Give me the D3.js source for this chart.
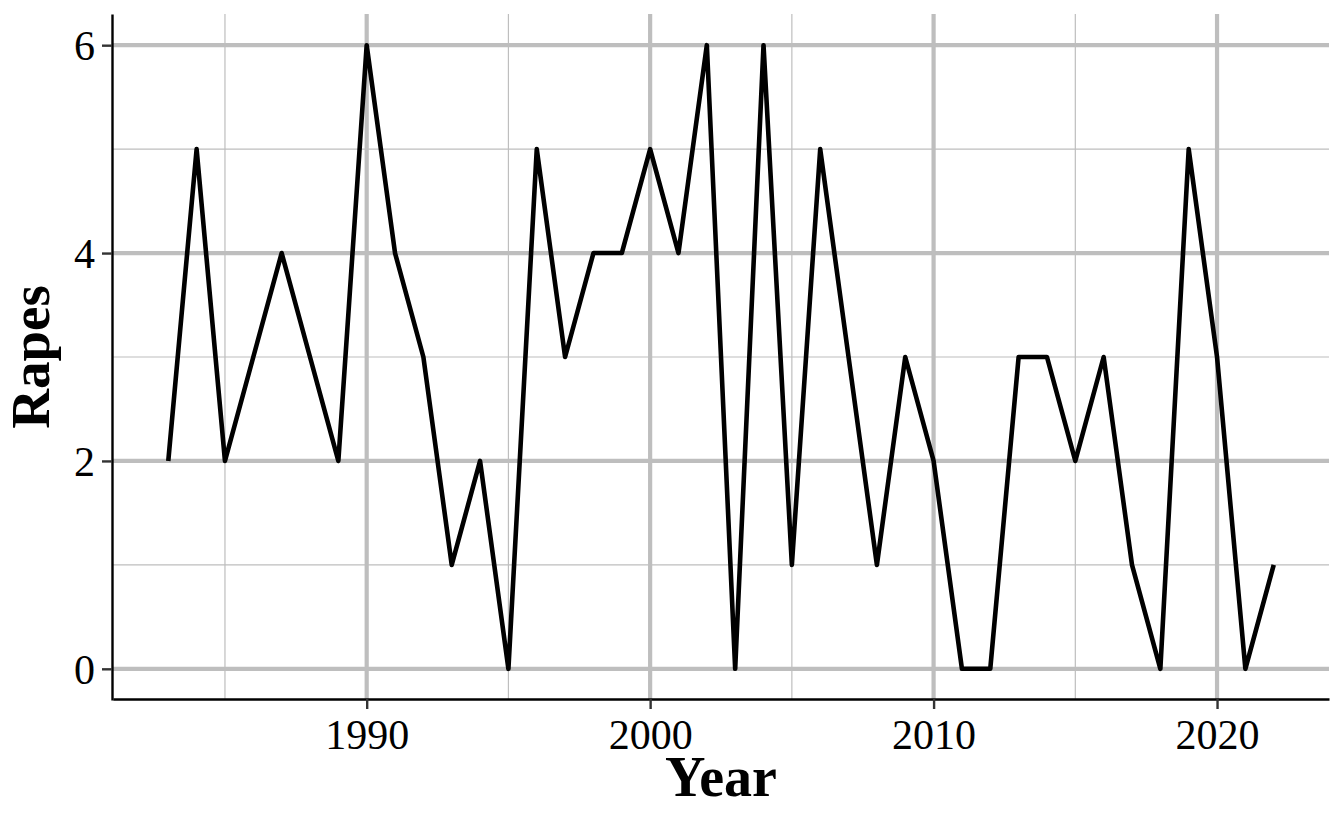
<!DOCTYPE html>
<html>
<head>
<meta charset="utf-8">
<script src="https://cdn.jsdelivr.net/npm/d3@7"></script>
<style>
  html, body { margin: 0; padding: 0; background: #fff; }
  svg { display: block; }
</style>
</head>
<body>
<svg id="chart" width="1344" height="830"></svg>
<script>
const years = [1983,1984,1985,1986,1987,1988,1989,1990,1991,1992,1993,1994,1995,1996,1997,1998,1999,2000,2001,2002,2003,2004,2005,2006,2007,2008,2009,2010,2011,2012,2013,2014,2015,2016,2017,2018,2019,2020,2021,2022];
const rapes = [2,5,2,3,4,3,2,6,4,3,1,2,0,5,3,4,4,5,4,6,0,6,1,5,3,1,3,2,0,0,3,3,2,3,1,0,5,3,0,1];
const xTicks = [1990, 2000, 2010, 2020];
const xMinor = [1985, 1995, 2005, 2015];
const yTicks = [0, 2, 4, 6];
const yMinor = [1, 3, 5];
const xTitle = "Year";
const yTitle = "Rapes";

const m = { left: 113, right: 1329, top: 14, bottom: 700 };
const svg = d3.select("#chart");
const font = "'Liberation Serif', 'Times New Roman', serif";

const xExt = d3.extent(years), xPad = (xExt[1] - xExt[0]) * 0.05;
const yExt = [0, d3.max(rapes)], yPad = (yExt[1] - yExt[0]) * 0.05;
const x = d3.scaleLinear().domain([xExt[0] - xPad, xExt[1] + xPad]).range([m.left, m.right]);
const y = d3.scaleLinear().domain([yExt[0] - yPad, yExt[1] + yPad]).range([m.bottom, m.top]);

const grid = svg.append("g");
const gc = "#bebebe";
grid.selectAll(".ymin").data(yMinor).join("line")
  .attr("x1", m.left).attr("x2", m.right).attr("y1", d => y(d)).attr("y2", d => y(d))
  .attr("stroke", gc).attr("stroke-width", 1.2);
grid.selectAll(".xmin").data(xMinor).join("line")
  .attr("y1", m.top).attr("y2", m.bottom).attr("x1", d => x(d)).attr("x2", d => x(d))
  .attr("stroke", gc).attr("stroke-width", 1.2);
grid.selectAll(".ymaj").data(yTicks).join("line")
  .attr("x1", m.left).attr("x2", m.right).attr("y1", d => y(d)).attr("y2", d => y(d))
  .attr("stroke", gc).attr("stroke-width", 4.2);
grid.selectAll(".xmaj").data(xTicks).join("line")
  .attr("y1", m.top).attr("y2", m.bottom).attr("x1", d => x(d)).attr("x2", d => x(d))
  .attr("stroke", gc).attr("stroke-width", 4.2);

const line = d3.line().x((d, i) => x(years[i])).y(d => y(d));
svg.append("path").datum(rapes).attr("d", line)
  .attr("fill", "none").attr("stroke", "#000").attr("stroke-width", 4.6)
  .attr("stroke-linejoin", "round").attr("stroke-linecap", "butt");

// axes
const xAxis = svg.append("g").attr("transform", `translate(0,${m.bottom - 1})`)
  .call(d3.axisBottom(x).tickValues(xTicks).tickFormat(d3.format("d")).tickSize(10).tickSizeOuter(0).tickPadding(8));
const yAxis = svg.append("g").attr("transform", `translate(${m.left - 1},0)`)
  .call(d3.axisLeft(y).tickValues(yTicks).tickFormat(d3.format("d")).tickSize(10).tickSizeOuter(0).tickPadding(7));
[xAxis, yAxis].forEach(g => {
  g.select(".domain").attr("stroke", "#000").attr("stroke-width", 2.4);
  g.selectAll(".tick line").attr("stroke", "#333").attr("stroke-width", 2.4);
  g.selectAll(".tick text").attr("font-family", font).attr("font-size", 42).attr("fill", "#000");
});
xAxis.selectAll(".tick text").attr("dy", "0.76em");
yAxis.selectAll(".tick text").attr("dy", "0.34em");

svg.append("text").text(xTitle)
  .attr("x", (m.left + m.right) / 2).attr("y", 796)
  .attr("text-anchor", "middle").attr("font-family", font).attr("font-weight", "bold")
  .attr("font-size", 56).attr("fill", "#000");
svg.append("text").text(yTitle)
  .attr("transform", `translate(49,${(m.top + m.bottom) / 2}) rotate(-90)`)
  .attr("text-anchor", "middle").attr("font-family", font).attr("font-weight", "bold")
  .attr("font-size", 55).attr("fill", "#000");
</script>
</body>
</html>
